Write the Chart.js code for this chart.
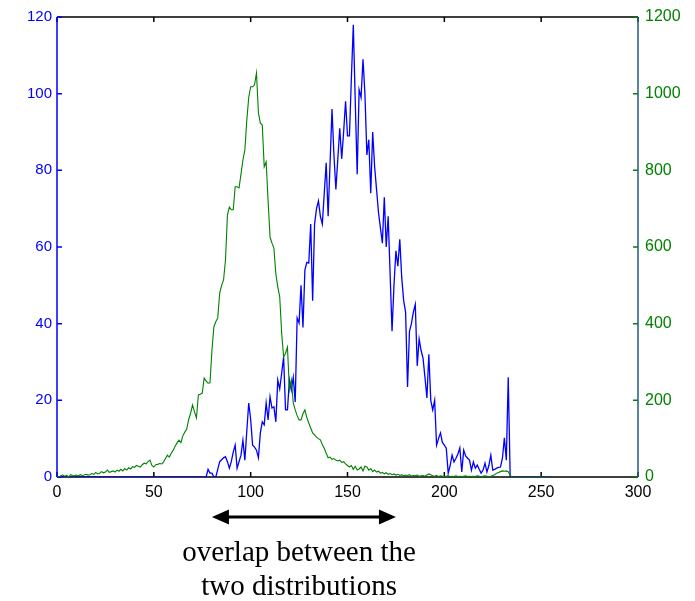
<!DOCTYPE html>
<html>
<head>
<meta charset="utf-8">
<script src="https://cdn.jsdelivr.net/npm/chart.js@4/dist/chart.umd.min.js"></script>
<style>
  html, body { margin: 0; padding: 0; background: #ffffff; }
  #wrap { width: 695px; height: 601px; }
</style>
</head>
<body>
<div id="wrap"><canvas id="c" width="695" height="601"></canvas></div>
<script>
// Grey-level bins 0..255
const bins = Array.from({ length: 256 }, (_, i) => i);

// Histogram of the brighter class (left axis, blue)
const blueCounts = [
  0,0,0,0,0,0,0,0,0,0, 0,0,0,0,0,0,0,0,0,0,
  0,0,0,0,0,0,0,0,0,0, 0,0,0,0,0,0,0,0,0,0,
  0,0,0,0,0,0,0,0,0,0, 0,0,0,0,0,0,0,0,0,0,
  0,0,0,0,0,0,0,0,0,0, 0,0,0,0,0,0,0,0,2,1,
  1,0,0,2,4,4.5,5,5.3,4,2.3, 4,6.5,8.3,2.3,4,5.7,9.6,4.4,12,19.3,
  15,8.3,7.8,7,5,11.5,14.4,13.6,19.3,14.9, 20.9,18,18.3,14.4,25.3,23,27,31.3,17.5,17.5,
  25.3,22.7,26,19.6,41.5,40.2,50,39,54,56, 55.8,66,46,66,70,72,68,66,74,82,
  68,82,96,84,75,83,91,83,90,98, 89,89,104,118,98,79,101,99,109,100,
  84,88,74,90,81,75,69,65,61,73, 60,68,53,38,50,59,55,62,52,46,
  43,23.5,38,40,43,45,29,36,33,31, 26,20.6,32,20,17.5,20,8.3,10,11.5,9,
  8.3,7.5,1,3,5.7,3.9,4.9,6,7.6,1.3, 7,5.5,4.9,4.4,1.8,3.9,2.3,3.1,2,1,
  1.8,3.6,1.3,3,5.7,1.8,2,2.3,2.5,2.6, 4.9,10.2,4.4,26,0,0,0,0,0,0,
  0,0,0,0,0,0,0,0,0,0, 0,0,0,0,0,0
];

// Histogram of the darker class (right axis, green)
const greenCounts = [
  2,0,3,5,2,4,0,6,4,3, 5,3,6,4,5,7,5,6,9,7,
  12,8,10,14,11,13,18,12,14,16, 13,18,15,20,16,22,18,24,21,27,
  25,30,28,26,32,36,34,40,44,30, 26,32,33,35,34,39,48,57,52,62,
  70,80,89,96,90,108,117,125,150,167, 188,170,154,214,216,219,258,250,245,246,
  330,392,405,415,480,500,514,566,683,704, 697,697,757,757,754,790,827,853,931,990,
  1018,1018,1023,1054,950,923,918,809,822,720, 626,610,597,530,496,470,376,313,323,339,
  227,253,193,175,160,149,149,165,175,155, 141,128,115,110,104,100,97,85,75,62,
  50,52,46,48,44,42,44,38,40,34, 30,26,30,20,28,18,21,26,16,28,
  26,18,22,14,18,13,15,10,12,8, 11,7,9,6,8,5,7,4,6,3,
  5,4,6,2,4,3,5,2,3,4, 2,5,8,6,3,2,4,1,3,2,
  1,2,3,1,2,1,3,1,2,1, 2,3,1,2,1,2,1,3,2,1,
  2,3,2,1,2,4,6,10,12,14, 16,15,16,14,4,0,0,0,0,0,
  0,0,0,0,0,0,0,0,0,0, 0,0,0,0,0,0
];

// Axis ticks
const xTicks = [0, 50, 100, 150, 200, 250, 300];
const leftTicks = [0, 20, 40, 60, 80, 100, 120];
const rightTicks = [0, 200, 400, 600, 800, 1000, 1200];

// Span of grey levels where the two classes overlap, and its caption
const overlapSpan = [80, 175];
const captionLines = ['overlap between the', 'two distributions'];

const BLUE = '#0000ff';
const GREEN = '#008000';
const SANS = '"Liberation Sans", Arial, sans-serif';
const plain = v => String(v);

// Box, spines and inward tick marks, drawn beneath the curves
const framePlugin = {
  id: 'frame',
  beforeDatasetsDraw(chart) {
    const { ctx, chartArea: a, scales } = chart;
    const x = scales.x, yl = scales.yLeft, yr = scales.yRight;
    const tl = 5;
    ctx.save();
    ctx.lineWidth = 1.5;

    // top and bottom edges with x ticks
    ctx.strokeStyle = '#000';
    ctx.beginPath();
    ctx.moveTo(a.left, a.top); ctx.lineTo(a.right, a.top);
    ctx.moveTo(a.left, a.bottom); ctx.lineTo(a.right, a.bottom);
    xTicks.forEach(v => {
      const px = x.getPixelForValue(v);
      ctx.moveTo(px, a.bottom); ctx.lineTo(px, a.bottom - tl);
      ctx.moveTo(px, a.top); ctx.lineTo(px, a.top + tl);
    });
    ctx.stroke();

    // left spine
    ctx.strokeStyle = BLUE;
    ctx.beginPath();
    ctx.moveTo(a.left, a.top); ctx.lineTo(a.left, a.bottom);
    leftTicks.forEach(v => {
      const py = yl.getPixelForValue(v);
      ctx.moveTo(a.left, py); ctx.lineTo(a.left + tl, py);
    });
    ctx.stroke();

    // right spine
    ctx.strokeStyle = GREEN;
    ctx.beginPath();
    rightTicks.forEach(v => {
      const py = yr.getPixelForValue(v);
      ctx.moveTo(a.right, py); ctx.lineTo(a.right - tl, py);
    });
    ctx.stroke();
    ctx.strokeStyle = '#1f5d7a';
    ctx.beginPath();
    ctx.moveTo(a.right, a.top); ctx.lineTo(a.right, a.bottom);
    ctx.stroke();
    ctx.restore();
  }
};

// Double-headed arrow under the x axis with its caption
const overlapPlugin = {
  id: 'overlap',
  afterDraw(chart) {
    const { ctx, scales } = chart;
    const x0 = scales.x.getPixelForValue(overlapSpan[0]);
    const x1 = scales.x.getPixelForValue(overlapSpan[1]);
    const y = 517;
    const hl = 17, hw = 7.5;
    ctx.save();
    ctx.strokeStyle = '#000';
    ctx.fillStyle = '#000';
    ctx.lineWidth = 3;
    ctx.beginPath();
    ctx.moveTo(x0 + hl - 2, y); ctx.lineTo(x1 - hl + 2, y);
    ctx.stroke();
    ctx.beginPath();
    ctx.moveTo(x0, y); ctx.lineTo(x0 + hl, y - hw); ctx.lineTo(x0 + hl, y + hw); ctx.closePath();
    ctx.fill();
    ctx.beginPath();
    ctx.moveTo(x1, y); ctx.lineTo(x1 - hl, y - hw); ctx.lineTo(x1 - hl, y + hw); ctx.closePath();
    ctx.fill();

    const cx = scales.x.getPixelForValue(125);
    ctx.font = '29px "Liberation Serif", "Times New Roman", serif';
    ctx.textAlign = 'center';
    ctx.textBaseline = 'middle';
    ctx.fillText(captionLines[0], cx, 553);
    ctx.fillText(captionLines[1], cx, 587);
    ctx.restore();
  }
};

new Chart(document.getElementById('c'), {
  type: 'line',
  data: {
    datasets: [
      {
        label: 'dark class',
        data: bins.map((b, i) => ({ x: b, y: greenCounts[i] })),
        yAxisID: 'yRight',
        borderColor: GREEN,
        borderWidth: 1.1,
        pointRadius: 0,
        tension: 0,
        fill: false
      },
      {
        label: 'bright class',
        data: bins.map((b, i) => ({ x: b, y: blueCounts[i] })),
        yAxisID: 'yLeft',
        borderColor: BLUE,
        borderWidth: 1.3,
        pointRadius: 0,
        tension: 0,
        fill: false
      }
    ]
  },
  options: {
    responsive: false,
    animation: false,
    layout: { padding: { top: 17, left: 0, right: 0, bottom: 0 } },
    plugins: { legend: { display: false }, tooltip: { enabled: false } },
    scales: {
      x: {
        type: 'linear',
        min: 0, max: 300,
        afterFit(s) { s.height = 124; },
        afterBuildTicks(s) { s.ticks = xTicks.map(v => ({ value: v })); },
        grid: { display: false, drawTicks: false },
        border: { display: false },
        ticks: { color: '#000', padding: 6, maxRotation: 0, callback: plain, font: { family: SANS, size: 16 } }
      },
      yLeft: {
        type: 'linear',
        position: 'left',
        min: 0, max: 120,
        afterFit(s) { s.width = 57; },
        afterBuildTicks(s) { s.ticks = leftTicks.map(v => ({ value: v })); },
        grid: { display: false, drawTicks: false },
        border: { display: false },
        ticks: { color: BLUE, padding: 5, callback: plain, font: { family: SANS, size: 15 } }
      },
      yRight: {
        type: 'linear',
        position: 'right',
        min: 0, max: 1200,
        afterFit(s) { s.width = 57; },
        afterBuildTicks(s) { s.ticks = rightTicks.map(v => ({ value: v })); },
        grid: { display: false, drawTicks: false },
        border: { display: false },
        ticks: { color: GREEN, padding: 7, callback: plain, font: { family: SANS, size: 16 } }
      }
    }
  },
  plugins: [framePlugin, overlapPlugin]
});
</script>
</body>
</html>
